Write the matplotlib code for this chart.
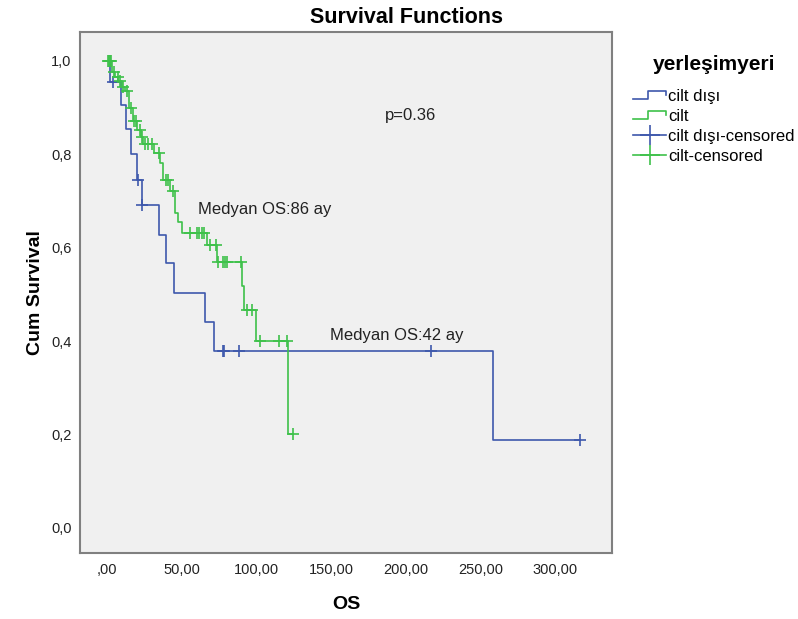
import numpy as np
import matplotlib
matplotlib.use("Agg")
import matplotlib.pyplot as plt
from matplotlib.lines import Line2D
from matplotlib.legend_handler import HandlerBase

plt.rcParams['font.family'] = ['Liberation Sans', 'DejaVu Sans']

# Kaplan-Meier steps: time where each level starts, and the level
blue_t = [0, 2.0, 9.2, 12.5, 15.9, 20.3, 23.2, 35.0, 39.5, 44.8, 65.6, 71.6, 258.0]
blue_s = [1.0, 0.955, 0.906, 0.854, 0.800, 0.745, 0.692, 0.627, 0.567, 0.503,
          0.440, 0.378, 0.189]
blue_end = 316.6
blue_cens = [3.8, 20.5, 23.5, 77.5, 78.5, 88.4, 216.9, 316.6]

green_t = [0, 3.0, 5.4, 7.4, 9.7, 12.0, 14.7, 17.1, 20.1, 22.8, 24.1, 31.5, 35.5,
           37.1, 42.2, 45.5, 47.7, 50.0, 67.1, 73.8, 90.2, 91.9, 99.7, 121.4]
green_s = [1.0, 0.977, 0.966, 0.956, 0.945, 0.935, 0.899, 0.872, 0.852, 0.838,
           0.822, 0.802, 0.781, 0.745, 0.722, 0.674, 0.656, 0.631, 0.605, 0.570,
           0.518, 0.467, 0.401, 0.201]
green_end = 124.3
green_cens = [0.5, 1.2, 2.0, 2.6, 4.5, 7.0, 8.7, 10.9, 13.2, 15.8, 18.0, 19.2,
              22.1, 23.4, 25.4, 27.6, 29.9, 34.5, 39.5, 40.5, 44.0, 55.6, 60.0,
              61.8, 63.4, 64.9, 68.9, 73.0, 74.5, 77.8, 79.0, 80.5, 89.7, 93.5,
              96.9, 102.4, 115.3, 120.3, 124.3]

x_ticks = [0, 50, 100, 150, 200, 250, 300]
x_labels = [',00', '50,00', '100,00', '150,00', '200,00', '250,00', '300,00']
y_ticks = [0, 0.2, 0.4, 0.6, 0.8, 1.0]
y_labels = ['0,0', '0,2', '0,4', '0,6', '0,8', '1,0']

BLUE = '#3E58AC'
GREEN = '#3EC14A'


def level_at(times, levels, x):
    idx = np.searchsorted(times, x, side='right') - 1
    return np.asarray(levels)[idx]


class StepHandler(HandlerBase):
    # little step icon for the survival curves in the legend
    def create_artists(self, legend, orig_handle, xdescent, ydescent,
                       width, height, fontsize, trans):
        x0 = -xdescent
        lo = -ydescent + height * 0.2
        hi = -ydescent + height * 0.85
        mid = -ydescent + height * 0.55
        xs = [x0, x0 + width * 0.45, x0 + width * 0.45, x0 + width, x0 + width]
        ys = [lo, lo, hi, hi, mid]
        ln = Line2D(xs, ys, color=orig_handle.get_color(), lw=1.2, transform=trans)
        return [ln]


fig = plt.figure(figsize=(7.98, 6.19), dpi=100)
ax = fig.add_axes([0.1003, 0.1066, 0.6667, 0.8417])
ax.set_facecolor('#F0F0F0')

bx = blue_t + [blue_end]
by = blue_s + [blue_s[-1]]
gx = green_t + [green_end]
gy = green_s + [green_s[-1]]

h_blue, = ax.step(bx, by, where='post', color=BLUE, lw=1.2)
h_green, = ax.step(gx, gy, where='post', color=GREEN, lw=1.2)

h_bc, = ax.plot(blue_cens, level_at(blue_t, blue_s, blue_cens), ls='none',
                marker='+', ms=8, mew=1.2, color=BLUE)
h_gc, = ax.plot(green_cens, level_at(green_t, green_s, green_cens), ls='none',
                marker='+', ms=8, mew=1.2, color=GREEN)

ax.set_xlim(-18.1, 338)
ax.set_ylim(-0.054, 1.062)
ax.set_xticks(x_ticks)
ax.set_xticklabels(x_labels)
ax.set_yticks(y_ticks)
ax.set_yticklabels(y_labels)
ax.tick_params(length=0, labelsize=10.5, colors='#222222')
ax.tick_params(axis='y', pad=6)
ax.tick_params(axis='x', pad=7)
for s in ax.spines.values():
    s.set_color('#808080')
    s.set_linewidth(1.5)

ax.set_xlabel('OS', fontsize=14, fontweight='bold', labelpad=14)
ax.set_ylabel('Cum Survival', fontsize=14, fontweight='bold', labelpad=5)

fig.text(0.509, 0.972, 'Survival Functions', ha='center', va='center',
         fontsize=15.5, fontweight='bold')

ax.text(186, 0.884, 'p=0.36', fontsize=12, color='#222222', va='center')
ax.text(61, 0.681, 'Medyan OS:86 ay', fontsize=12, color='#222222', va='center')
ax.text(149, 0.411, 'Medyan OS:42 ay', fontsize=12, color='#222222', va='center')

c_blue = Line2D([], [], color=BLUE, lw=1.2, marker='+', ms=14, mew=1.2)
c_green = Line2D([], [], color=GREEN, lw=1.2, marker='+', ms=14, mew=1.2)
leg = fig.legend([h_blue, h_green, c_blue, c_green],
                 ['cilt dışı', 'cilt', 'cilt dışı-censored', 'cilt-censored'],
                 title='yerleşimyeri', loc='upper left',
                 bbox_to_anchor=(0.785, 0.922), frameon=False, fontsize=12,
                 title_fontproperties={'weight': 'bold', 'size': 15},
                 handler_map={h_blue: StepHandler(), h_green: StepHandler()},
                 handlelength=2.0, handletextpad=0.1, labelspacing=0.3,
                 borderaxespad=0)
leg._legend_box.sep = 11

plt.savefig('out.png', dpi=100)
